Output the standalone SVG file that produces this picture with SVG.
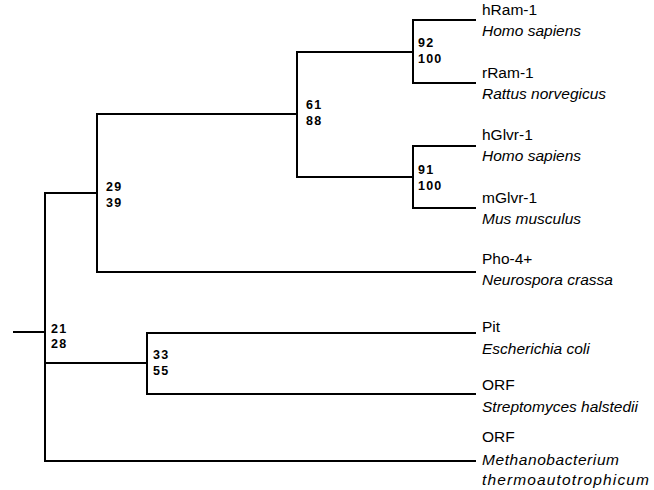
<svg xmlns="http://www.w3.org/2000/svg" width="654" height="490" viewBox="0 0 654 490">
<style>
.e{fill:none;stroke:#000;stroke-width:2;stroke-linecap:square;stroke-linejoin:miter}
.n{font-family:"Liberation Sans",Arial,sans-serif;font-size:15.5px;fill:#000}
.s{font-family:"Liberation Sans",Arial,sans-serif;font-size:15.5px;font-style:italic;fill:#000}
.b{font-family:"Liberation Sans",Arial,sans-serif;font-size:12.5px;font-weight:bold;letter-spacing:1.2px;fill:#000}
</style>
<rect width="654" height="490" fill="#fff"/>
<g id="connectors">
<path class="e" d="M14,332H45"/>
<path class="e" d="M45,193V461"/>
<path class="e" d="M45,193H97M45,363H147M45,461H475"/>
<path class="e" d="M97,114V272M97,114H297M97,272H475"/>
<path class="e" d="M297,52V177M297,52H413M297,177H413"/>
<path class="e" d="M413,20V83M413,20H475M413,83H475"/>
<path class="e" d="M413,146V208M413,146H475M413,208H475"/>
<path class="e" d="M147,333V394M147,333H475M147,394H475"/>
</g>
<g id="node21"><text class="b" x="51" y="333">21</text><text class="b" x="51" y="348">28</text></g>
<g id="node29"><text class="b" x="106" y="191">29</text><text class="b" x="106" y="207">39</text></g>
<g id="node61"><text class="b" x="306" y="109">61</text><text class="b" x="306" y="125">88</text></g>
<g id="node92"><text class="b" x="418" y="47">92</text><text class="b" x="418" y="63">100</text></g>
<g id="node91"><text class="b" x="418" y="174">91</text><text class="b" x="418" y="190">100</text></g>
<g id="node33"><text class="b" x="153" y="359">33</text><text class="b" x="153" y="375">55</text></g>
<g id="hRam1"><text class="n" x="482" y="15">hRam-1</text><text class="s" x="482" y="36">Homo sapiens</text></g>
<g id="rRam1"><text class="n" x="482" y="78">rRam-1</text><text class="s" x="482" y="99">Rattus norvegicus</text></g>
<g id="hGlvr1"><text class="n" x="482" y="140">hGlvr-1</text><text class="s" x="482" y="161">Homo sapiens</text></g>
<g id="mGlvr1"><text class="n" x="482" y="203">mGlvr-1</text><text class="s" x="482" y="224">Mus musculus</text></g>
<g id="pho4"><text class="n" x="482" y="264">Pho-4+</text><text class="s" x="482" y="285">Neurospora crassa</text></g>
<g id="pit"><text class="n" x="482" y="332">Pit</text><text class="s" x="482" y="354">Escherichia coli</text></g>
<g id="orfS"><text class="n" x="482" y="390">ORF</text><text class="s" x="482" y="412">Streptomyces halstedii</text></g>
<g id="orfM"><text class="n" x="482" y="442">ORF</text><text class="s" x="482" y="465" textLength="137">Methanobacterium</text><text class="s" x="482" y="485" textLength="167">thermoautotrophicum</text></g>
</svg>
